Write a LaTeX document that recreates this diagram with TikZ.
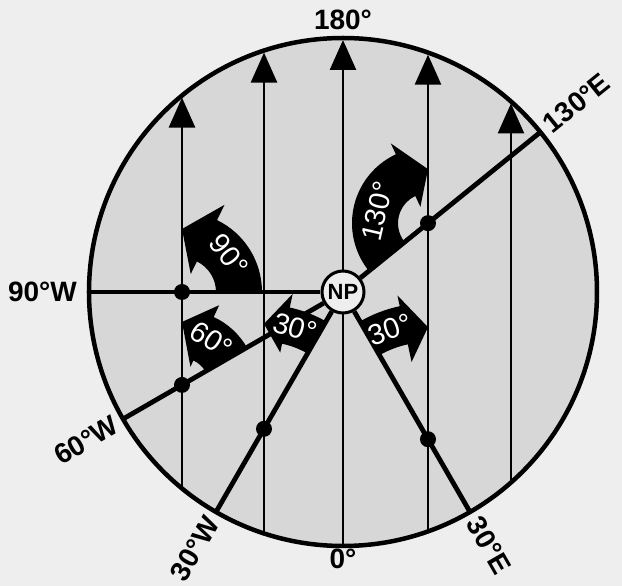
\documentclass[tikz,border=0pt]{standalone}
\usepackage{fontspec}
\setmainfont{Liberation Sans}
\usepackage{tikz}
\usetikzlibrary{arrows.meta,calc}
\definecolor{paper}{HTML}{EEEEEE}
\definecolor{disc}{HTML}{D7D7D7}
\tikzset{
  gridline/.style={line width=2.6pt,draw=black},
  gridarrow/.style={gridline,-{Triangle[length=30pt,width=26pt]},shorten >=2pt},
  meridian/.style={line width=4.8pt,draw=black},
  dot/.style={circle,fill=black,inner sep=0pt,minimum size=16pt},
  pole/.style={circle,draw=black,line width=3pt,fill=paper,inner sep=0pt,minimum size=42pt,font=\fontsize{22}{22}\selectfont\bfseries},
  rimlabel/.style={font=\fontsize{28}{30}\selectfont\bfseries,inner sep=0pt},
  anglabel/.style={text=white,font=\fontsize{29}{30}\selectfont,inner sep=0pt},
  bent/.style={fill=black}
}
\newcommand{\bentarrow}[8]{%
  \fill[bent] ($(#1)+(#4:#2)$) arc[start angle=#4,end angle=#5,radius=#2]
    -- ($(#1)+(#5:#6)$) -- ($(#1)+(90:#8)$) -- ($(#1)+(#5:#7)$)
    -- ($(#1)+(#5:#3)$) arc[start angle=#5,end angle=#4,radius=#3] -- cycle;}

\begin{document}
\begin{tikzpicture}[x=1pt,y=1pt]
  \useasboundingbox (-343,-294) rectangle (279,292);
  \fill[paper] (-343,-294) rectangle (279,292);
  \filldraw[fill=disc,draw=black,line width=4.5pt] (0,0) coordinate (O) circle[radius=254];
  \foreach \gx [count=\i] in {-161,-79,0,85,168} {
    \coordinate (t\i) at ({acos(\gx/254)}:254);
    \coordinate (b\i) at ({-acos(\gx/254)}:254);
    \draw[gridarrow] (b\i) -- (t\i);
  }
  \coordinate (e90w) at (180:254);
  \coordinate (e60w) at (210:254);
  \coordinate (e30w) at (240:254);
  \coordinate (e30e) at (300:254);
  \coordinate (e130e) at (39:254);
  \node[dot] (d1) at (-161,0) {};
  \node[dot] (d2) at (210:{161/cos(30)}) {};
  \node[dot] (d3) at (240:{79/cos(60)}) {};
  \node[dot] (d4) at (300:{85/cos(60)}) {};
  \node[dot] (d5) at (39:{85/cos(39)}) {};
  \node[pole] (NP) at (O) {NP};
  \draw[meridian] (NP) -- (e90w);
  \draw[meridian] (NP) -- (e60w);
  \draw[meridian] (NP) -- (e30w);
  \draw[meridian] (NP) -- (e30e);
  \draw[meridian] (NP) -- (e130e);
  \bentarrow{d1}{34}{80}{0}{64}{20}{97}{63}
  \bentarrow{d2}{27}{75}{30}{65}{20}{88}{63}
  \bentarrow{d3}{87}{124}{60}{78}{78}{138}{105}
  \bentarrow{d4}{97}{136}{120}{102}{79}{147}{112}
  \bentarrow{d5}{30}{76}{219}{115}{18}{88}{54}
  \node[anglabel,rotate=-52] (a90) at ($(d1)+(38:60)$) {90°};
  \node[anglabel,rotate=-33] (a60) at ($(d2)+(57:54)$) {60°};
  \node[anglabel,rotate=-16] (a30w) at ($(d3)+(73:106)$) {30°};
  \node[anglabel,rotate=19] (a30e) at ($(d4)+(109:116)$) {30°};
  \node[anglabel,rotate=77] (a130) at ($(d5)+(167:52)$) {130°};
  \node[rimlabel,anchor=south] (l180) at (90:262) {180°};
  \node[rimlabel,anchor=north] (l0) at (270:257) {0°};
  \node[rimlabel,anchor=east] (l90w) at (180:266) {90°W};
  \node[rimlabel,anchor=east,rotate=30] (l60w) at (210:262) {60°W};
  \node[rimlabel,anchor=east,rotate=60] (l30w) at (240:262) {30°W};
  \node[rimlabel,anchor=west,rotate=-60] (l30e) at (300:262) {30°E};
  \node[rimlabel,anchor=west,rotate=39] (l130e) at (39:262) {130°E};
\end{tikzpicture}
\end{document}
